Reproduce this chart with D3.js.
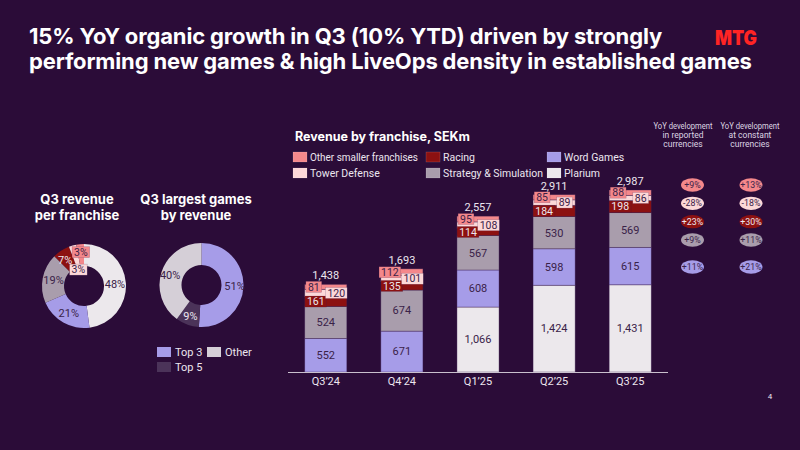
<!DOCTYPE html>
<html>
<head>
<meta charset="utf-8">
<script src="https://cdn.jsdelivr.net/npm/d3@7/dist/d3.min.js"></script>
<style>
  html, body { margin: 0; padding: 0; background: #2b0c38; }
  svg { display: block; font-family: Roboto, "Noto Sans", sans-serif; }
</style>
</head>
<body>
<div id="chart"></div>
<script>
// Revenue by franchise, SEKm (stack bottom -> top)
const quarters = ['Q3’24', 'Q4’24', 'Q1’25', 'Q2’25', 'Q3’25'];
const franchises = ['Plarium', 'Word Games', 'Strategy & Simulation', 'Racing', 'Tower Defense', 'Other smaller franchises'];
const plarium = [0, 0, 1066, 1424, 1431];
const wordGames = [552, 671, 608, 598, 615];
const strategySim = [524, 674, 567, 530, 569];
const racing = [161, 135, 114, 184, 198];
const towerDefense = [120, 101, 108, 89, 86];
const otherSmaller = [81, 112, 95, 85, 88];
const totals = [1438, 1693, 2557, 2911, 2987];

// Q3 largest games by revenue, %
const gameGroups = ['Top 3', 'Top 5', 'Other'];
const gameShares = [51, 9, 40];

// YoY development, Q3'25 vs Q3'24
const yoyRows = ['Other smaller franchises', 'Tower Defense', 'Racing', 'Strategy & Simulation', 'Word Games'];
const yoyReported = ['+9%', '-28%', '+23%', '+9%', '+11%'];
const yoyConstant = ['+13%', '-18%', '+30%', '+11%', '+21%'];

const series = [plarium, wordGames, strategySim, racing, towerDefense, otherSmaller];

const colors = {
  'Plarium': '#ece8ec',
  'Word Games': '#a69ce8',
  'Strategy & Simulation': '#a99dac',
  'Racing': '#8c1111',
  'Tower Defense': '#fcd8d8',
  'Other smaller franchises': '#f4888b',
  'Top 3': '#a69ce8',
  'Top 5': '#4b3359',
  'Other': '#d5cfd7'
};
const BG = '#2b0c38';
const DARK = '#3a2248';
const LIGHT = '#ece6ef';

const W = 800, H = 450;
const svg = d3.select('#chart').append('svg')
  .attr('width', W).attr('height', H)
  .attr('viewBox', `0 0 ${W} ${H}`);

svg.append('rect').attr('width', W).attr('height', H).attr('fill', BG);

// Title
const title = svg.append('text')
  .attr('x', 29).attr('y', 44)
  .attr('fill', '#ffffff')
  .attr('font-family', 'Inter, sans-serif')
  .attr('font-size', 22)
  .attr('font-weight', 700)
  .attr('letter-spacing', -0.15);
title.append('tspan').attr('x', 29).text('15% YoY organic growth in Q3 (10% YTD) driven by strongly');
title.append('tspan').attr('x', 29).attr('dy', 25).text('performing new games & high LiveOps density in established games');

// Logo
svg.append('text')
  .attr('x', 736).attr('y', 45)
  .attr('text-anchor', 'middle')
  .attr('fill', '#ff2424')
  .attr('font-family', 'Inter, sans-serif')
  .attr('font-size', 20)
  .attr('font-weight', 900)
  .attr('textLength', 42)
  .attr('lengthAdjust', 'spacingAndGlyphs')
  .text('MTG');

// ---------- Stacked bars ----------
const x = d3.scaleBand()
  .domain(quarters)
  .range([288, 668])
  .paddingInner(0.447)
  .paddingOuter(0.22);

const y = d3.scaleLinear()
  .domain([0, d3.max(totals)])
  .range([372, 190]);

const table = quarters.map((q, i) => {
  const row = { quarter: q, total: totals[i] };
  franchises.forEach((f, k) => { row[f] = series[k][i]; });
  return row;
});

const stack = d3.stack().keys(franchises)(table);

const barsG = svg.append('g');
const layers = barsG.selectAll('g.layer')
  .data(stack)
  .join('g')
  .attr('class', 'layer')
  .attr('fill', d => colors[d.key]);

layers.selectAll('rect')
  .data(d => d.filter(s => s[1] > s[0]))
  .join('rect')
  .attr('x', d => x(d.data.quarter))
  .attr('width', x.bandwidth())
  .attr('y', d => y(d[1]))
  .attr('height', d => y(d[0]) - y(d[1]))
  .attr('stroke', 'rgba(60,30,80,0.55)')
  .attr('stroke-width', 0.7);

// Labels centred in the big segments
const bigKeys = ['Plarium', 'Word Games', 'Strategy & Simulation'];
stack.filter(l => bigKeys.includes(l.key)).forEach(layer => {
  barsG.append('g').selectAll('text')
    .data(layer.filter(s => s[1] > s[0]))
    .join('text')
    .attr('x', d => x(d.data.quarter) + x.bandwidth() / 2)
    .attr('y', d => y((d[0] + d[1]) / 2))
    .attr('dy', '0.35em')
    .attr('text-anchor', 'middle')
    .attr('font-size', 11)
    .attr('fill', DARK)
    .text(d => d3.format(',')(d[1] - d[0]));
});

// Boxed labels for the thin segments
const boxLabel = (g, cx, cy, txt, fill, color) => {
  const t = g.append('text')
    .attr('x', cx).attr('y', cy)
    .attr('dy', '0.35em')
    .attr('text-anchor', 'middle')
    .attr('font-size', 10.5)
    .attr('fill', color)
    .text(txt);
  const w = t.node().getComputedTextLength() + 4;
  g.insert('rect', () => t.node())
    .attr('x', cx - w / 2).attr('y', cy - 5.5)
    .attr('width', w).attr('height', 11)
    .attr('fill', fill)
    .attr('stroke', 'rgba(60,30,80,0.35)')
    .attr('stroke-width', 0.5);
};

const smallG = svg.append('g');
const layerOf = k => stack.find(l => l.key === k);
const smallSpecs = [
  { key: 'Racing', dx: -10, text: LIGHT },
  { key: 'Tower Defense', dx: 10.5, text: DARK },
  { key: 'Other smaller franchises', dx: -12, text: DARK }
];
smallSpecs.forEach(spec => {
  layerOf(spec.key).forEach(d => {
    const cx = x(d.data.quarter) + x.bandwidth() / 2 + spec.dx;
    const cy = y((d[0] + d[1]) / 2);
    boxLabel(smallG, cx, cy, d[1] - d[0], colors[spec.key], spec.text);
  });
});

// Totals
svg.append('g').selectAll('text')
  .data(table)
  .join('text')
  .attr('x', d => x(d.quarter) + x.bandwidth() / 2)
  .attr('y', d => y(d.total) - 5)
  .attr('text-anchor', 'middle')
  .attr('font-size', 11)
  .attr('fill', LIGHT)
  .text(d => d3.format(',')(d.total));

// Axis
const axisG = svg.append('g')
  .attr('transform', `translate(0,${y(0)})`)
  .call(d3.axisBottom(x).tickSize(0).tickPadding(5));
axisG.select('.domain').remove();
axisG.selectAll('text')
  .attr('font-size', 11)
  .attr('font-family', 'Roboto, "Noto Sans", sans-serif')
  .attr('fill', LIGHT);
svg.append('line')
  .attr('x1', x.range()[0]).attr('x2', x.range()[1])
  .attr('y1', y(0) + 0.5).attr('y2', y(0) + 0.5)
  .attr('stroke', '#c9c0cd').attr('stroke-width', 1);

// Legend
svg.append('text')
  .attr('x', 295).attr('y', 141)
  .attr('fill', '#ffffff')
  .attr('font-family', 'Inter, sans-serif')
  .attr('font-size', 12.5)
  .attr('font-weight', 700)
  .text('Revenue by franchise, SEKm');

const legendOrder = [
  ['Other smaller franchises', 'Tower Defense'],
  ['Racing', 'Strategy & Simulation'],
  ['Word Games', 'Plarium']
];
const legendCols = [293, 426, 547];
legendOrder.forEach((col, ci) => {
  col.forEach((k, ri) => {
    const g = svg.append('g')
      .attr('transform', `translate(${legendCols[ci]},${152 + ri * 16})`);
    g.append('rect').attr('width', 14).attr('height', 10)
      .attr('fill', colors[k]).attr('stroke', 'rgba(255,255,255,0.25)').attr('stroke-width', 0.5);
    const t = g.append('text').attr('x', 17).attr('y', 5).attr('dy', '0.35em')
      .attr('font-size', 10.5).attr('fill', LIGHT).text(k);
    // keep the text inside the column width seen in the reference
    const maxW = ci === 0 ? 108 : 100;
    if (t.node().getComputedTextLength() > maxW) {
      t.attr('textLength', maxW).attr('lengthAdjust', 'spacingAndGlyphs');
    }
  });
});

// ---------- Donuts ----------
const pie = d3.pie().sort(null).value(d => d.value);

// Donut 1: Q3 revenue per franchise (from Q3'25 column)
const lastIdx = quarters.length - 1;
const q3Total = d3.sum(series, s => s[lastIdx]);
const donut1 = franchises.map((f, k) => ({ key: f, value: series[k][lastIdx] }));

const d1 = { cx: 84, cy: 286, r0: 20, r1: 42 };
svg.append('text')
  .attr('x', 77).attr('y', 204)
  .attr('text-anchor', 'middle')
  .attr('fill', '#ffffff').attr('font-size', 13).attr('font-weight', 700)
  .attr('font-family', 'Inter, sans-serif')
  .call(t => {
    t.append('tspan').attr('x', 77).text('Q3 revenue');
    t.append('tspan').attr('x', 77).attr('dy', 16).text('per franchise');
  });

const g1 = svg.append('g').attr('transform', `translate(${d1.cx},${d1.cy})`);
const arc1 = d3.arc().innerRadius(d1.r0).outerRadius(d1.r1);
const arcs1 = pie(donut1);
g1.selectAll('path')
  .data(arcs1)
  .join('path')
  .attr('d', arc1)
  .attr('fill', d => colors[d.data.key]);

const pct1 = d => Math.round(d.data.value / q3Total * 100) + '%';
const labelArc1 = d3.arc().innerRadius(31).outerRadius(31);
arcs1.forEach(a => {
  const k = a.data.key;
  const mid = (a.startAngle + a.endAngle) / 2;
  if (k === 'Tower Defense') {
    boxLabel(g1, 17 * Math.sin(mid) - 1, -17 * Math.cos(mid), pct1(a), colors[k], DARK);
  } else if (k === 'Other smaller franchises') {
    boxLabel(g1, 34 * Math.sin(mid), -34 * Math.cos(mid), pct1(a), colors[k], DARK);
  } else {
    const [lx, ly] = labelArc1.centroid(a);
    g1.append('text')
      .attr('x', lx - (k === 'Racing' ? 2 : 0)).attr('y', ly).attr('dy', '0.35em')
      .attr('text-anchor', 'middle')
      .attr('font-size', 11)
      .attr('fill', k === 'Racing' ? LIGHT : DARK)
      .text(pct1(a));
  }
});

// Donut 2: Q3 largest games by revenue
const d2 = { cx: 201.5, cy: 285, r0: 20, r1: 42 };
svg.append('text')
  .attr('x', 196).attr('y', 204)
  .attr('text-anchor', 'middle')
  .attr('fill', '#ffffff').attr('font-size', 13).attr('font-weight', 700)
  .attr('font-family', 'Inter, sans-serif')
  .call(t => {
    t.append('tspan').attr('x', 196).text('Q3 largest games');
    t.append('tspan').attr('x', 196).attr('dy', 16).text('by revenue');
  });

const g2 = svg.append('g').attr('transform', `translate(${d2.cx},${d2.cy})`);
const arc2 = d3.arc().innerRadius(d2.r0).outerRadius(d2.r1);
const arcs2 = pie(gameGroups.map((k, i) => ({ key: k, value: gameShares[i] })));
g2.selectAll('path')
  .data(arcs2)
  .join('path')
  .attr('d', arc2)
  .attr('fill', d => colors[d.data.key]);
const labelArc2 = d3.arc().innerRadius(33).outerRadius(33);
g2.selectAll('text')
  .data(arcs2)
  .join('text')
  .attr('transform', d => `translate(${labelArc2.centroid(d)})`)
  .attr('dy', '0.35em')
  .attr('text-anchor', 'middle')
  .attr('font-size', 11)
  .attr('fill', d => d.data.key === 'Top 5' ? LIGHT : DARK)
  .text(d => d.data.value + '%');

// Donut 2 legend
const leg2 = [
  { key: 'Top 3', x: 157, y: 347 },
  { key: 'Other', x: 207, y: 347 },
  { key: 'Top 5', x: 157, y: 362 }
];
leg2.forEach(l => {
  const g = svg.append('g').attr('transform', `translate(${l.x},${l.y})`);
  g.append('rect').attr('width', 14).attr('height', 10).attr('fill', colors[l.key]);
  g.append('text').attr('x', 18).attr('y', 5).attr('dy', '0.35em')
    .attr('font-size', 11).attr('fill', LIGHT).text(l.key);
});

// ---------- YoY pills ----------
const yoyCols = [
  { cx: 692.5, head: ['YoY development', 'in reported', 'currencies'], hx: 683, vals: yoyReported },
  { cx: 751, head: ['YoY development', 'at constant', 'currencies'], hx: 750, vals: yoyConstant }
];
const rowY = d3.scalePoint().domain(yoyRows.slice(0, 4)).range([185, 240]);
const pillY = k => k === 'Word Games' ? y(plarium[lastIdx] + wordGames[lastIdx] / 2) + 1 : rowY(k);

yoyCols.forEach(col => {
  const h = svg.append('text')
    .attr('text-anchor', 'middle')
    .attr('font-size', 8.5)
    .attr('fill', '#ddd4e2');
  col.head.forEach((line, i) => {
    const ts = h.append('tspan').attr('x', col.hx).attr('y', 129 + i * 9).text(line);
    if (i === 0) ts.attr('textLength', 59).attr('lengthAdjust', 'spacingAndGlyphs');
  });
  yoyRows.forEach((k, i) => {
    const cy = pillY(k);
    svg.append('ellipse')
      .attr('cx', col.cx).attr('cy', cy)
      .attr('rx', 11.5).attr('ry', 6.7)
      .attr('fill', colors[k]);
    svg.append('text')
      .attr('x', col.cx).attr('y', cy).attr('dy', '0.35em')
      .attr('text-anchor', 'middle')
      .attr('font-size', 8.8)
      .attr('fill', k === 'Racing' ? LIGHT : DARK)
      .text(col.vals[i]);
  });
});

// Page number
svg.append('text')
  .attr('x', 770).attr('y', 399)
  .attr('text-anchor', 'middle')
  .attr('font-size', 8)
  .attr('fill', LIGHT)
  .text('4');
</script>
</body>
</html>
